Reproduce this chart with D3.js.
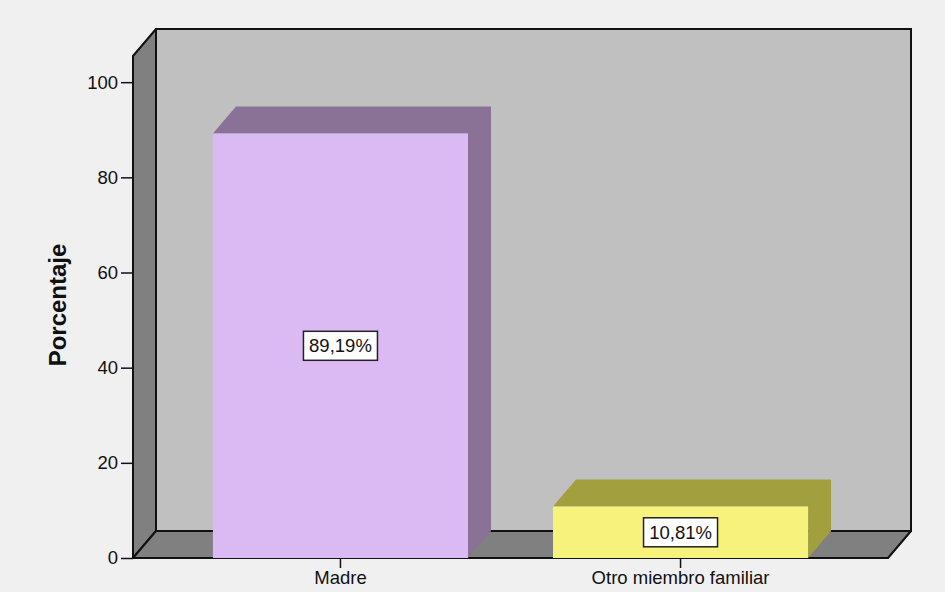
<!DOCTYPE html>
<html>
<head>
<meta charset="utf-8">
<script src="https://cdn.jsdelivr.net/npm/d3@7"></script>
<style>
  body { margin: 0; background: #f0f0f0; }
  svg { display: block; font-family: "Liberation Sans", Arial, sans-serif; }
</style>
</head>
<body>
<div id="chart"></div>
<script>
// data
var categories = ["Madre", "Otro miembro familiar"];
var percents = [89.19, 10.81];
var valueLabels = ["89,19%", "10,81%"];
var yTicks = [0, 20, 40, 60, 80, 100];

var svgWidth = 945;
var svgHeight = 592;

// front plane of the 3d box
var boxLeft = 133, boxRight = 888, boxBase = 558, boxTop = 56;
// depth offset of the back wall
var dx = 23, dy = -27;

var frontColors = ["#dbb9f2", "#f6f27c"];
var sideColors = ["#8a7296", "#a29f3e"];

var svg = d3.select("#chart")
  .append("svg")
  .attr("width", svgWidth)
  .attr("height", svgHeight);

svg.append("rect")
  .attr("width", svgWidth)
  .attr("height", svgHeight)
  .attr("fill", "#f0f0f0");

var x = d3.scaleBand()
  .domain(categories)
  .range([boxLeft, boxRight])
  .paddingInner(0.25)
  .paddingOuter(0.235);

var y = d3.scaleLinear()
  .domain([0, 105.5])
  .range([boxBase, boxTop]);

var line = d3.line();

// back wall
svg.append("rect")
  .attr("x", boxLeft + dx)
  .attr("y", boxTop + dy)
  .attr("width", boxRight - boxLeft)
  .attr("height", boxBase - boxTop)
  .attr("fill", "#c0c0c0")
  .attr("stroke", "#111")
  .attr("stroke-width", 2);

// left wall
svg.append("path")
  .attr("d", line([[boxLeft, boxBase], [boxLeft, boxTop], [boxLeft + dx, boxTop + dy], [boxLeft + dx, boxBase + dy]]) + "Z")
  .attr("fill", "#808080")
  .attr("stroke", "#111")
  .attr("stroke-width", 2)
  .attr("stroke-linejoin", "round");

// floor
svg.append("path")
  .attr("d", line([[boxLeft, boxBase], [boxRight, boxBase], [boxRight + dx, boxBase + dy], [boxLeft + dx, boxBase + dy]]) + "Z")
  .attr("fill", "#808080")
  .attr("stroke", "#111")
  .attr("stroke-width", 2)
  .attr("stroke-linejoin", "round");

// bars
var bars = svg.append("g").selectAll("g")
  .data(categories)
  .enter()
  .append("g");

bars.append("path")
  .attr("d", function(d, i) {
    var x0 = x(d), x1 = x(d) + x.bandwidth(), yt = y(percents[i]);
    return line([[x0, yt], [x0 + dx, yt + dy], [x1 + dx, yt + dy], [x1 + dx, boxBase + dy], [x1, boxBase], [x1, yt]]) + "Z";
  })
  .attr("fill", function(d, i) { return sideColors[i]; });

bars.append("rect")
  .attr("x", function(d) { return x(d); })
  .attr("y", function(d, i) { return y(percents[i]); })
  .attr("width", x.bandwidth())
  .attr("height", function(d, i) { return boxBase - y(percents[i]); })
  .attr("fill", function(d, i) { return frontColors[i]; });

// value labels in boxes
var labels = bars.append("g")
  .attr("transform", function(d, i) {
    return "translate(" + (x(d) + x.bandwidth() / 2) + "," + ((y(percents[i]) + boxBase) / 2) + ")";
  });

labels.append("rect")
  .attr("x", -37)
  .attr("y", -14.5)
  .attr("width", 74)
  .attr("height", 29)
  .attr("fill", "#fff")
  .attr("stroke", "#222")
  .attr("stroke-width", 1.5);

labels.append("text")
  .attr("text-anchor", "middle")
  .attr("dy", "0.36em")
  .attr("font-size", 18.5)
  .attr("fill", "#111")
  .text(function(d, i) { return valueLabels[i]; });

// y axis
var yAxis = svg.append("g")
  .attr("transform", "translate(" + boxLeft + ",0)")
  .call(d3.axisLeft(y).tickValues(yTicks).tickSize(12).tickPadding(3).tickFormat(d3.format("d")));
yAxis.select(".domain").remove();
yAxis.selectAll("line").attr("stroke", "#111").attr("stroke-width", 1.5);
yAxis.selectAll("text")
  .attr("font-size", 18.5)
  .attr("font-family", "Liberation Sans, Arial, sans-serif")
  .attr("fill", "#111");

// x axis
var xAxis = svg.append("g")
  .attr("transform", "translate(0," + boxBase + ")")
  .call(d3.axisBottom(x).tickSize(10).tickPadding(3));
xAxis.select(".domain").remove();
xAxis.selectAll("line").attr("stroke", "#111").attr("stroke-width", 1.5);
xAxis.selectAll("text")
  .attr("font-size", 18.5)
  .attr("font-family", "Liberation Sans, Arial, sans-serif")
  .attr("fill", "#111");

// y title
svg.append("text")
  .attr("transform", "translate(66,305) rotate(-90)")
  .attr("text-anchor", "middle")
  .attr("font-size", 24)
  .attr("font-weight", "bold")
  .attr("fill", "#111")
  .text("Porcentaje");
</script>
</body>
</html>
